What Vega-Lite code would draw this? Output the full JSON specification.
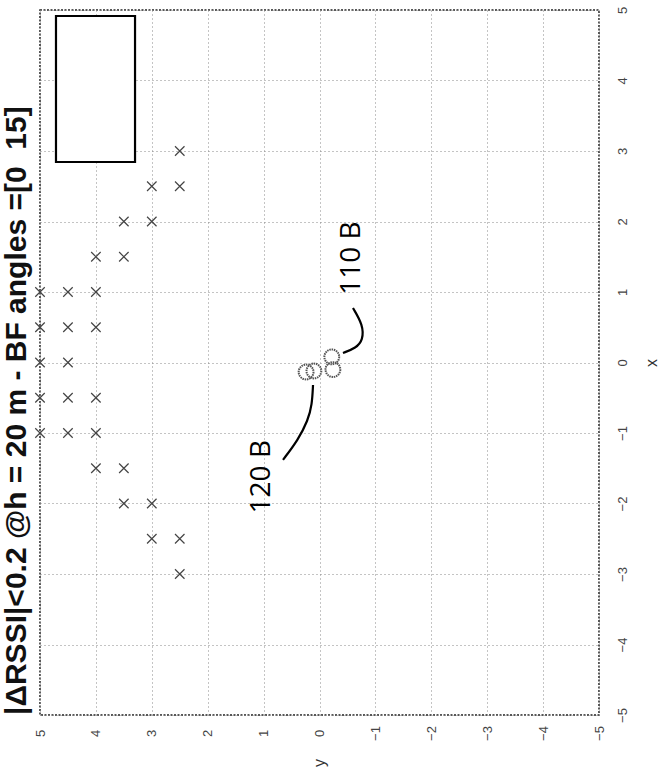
{
  "$schema": "https://vega.github.io/schema/vega-lite/v6.json",
  "autosize": {"type": "none"},
  "padding": {"left": 40, "top": 10, "right": 64, "bottom": 61},
  "width": 559,
  "height": 705,
  "background": "white",
  "title": {
    "text": "|ΔRSSI|<0.2 @h = 20 m - BF angles =[0\u00a0 15]",
    "orient": "left",
    "anchor": "start",
    "frame": "group",
    "font": "Liberation Sans",
    "fontSize": 30,
    "fontWeight": "bold",
    "color": "#111",
    "offset": 1
  },
  "datasets": {
    "crosses": [
      {"x": 3, "y": 2.5},
      {"x": 2.5, "y": 3}, {"x": 2.5, "y": 2.5},
      {"x": 2, "y": 3}, {"x": 2, "y": 3.5},
      {"x": 1.5, "y": 4}, {"x": 1.5, "y": 3.5},
      {"x": 1, "y": 5}, {"x": 1, "y": 4.5}, {"x": 1, "y": 4},
      {"x": 0.5, "y": 5}, {"x": 0.5, "y": 4.5}, {"x": 0.5, "y": 4},
      {"x": 0, "y": 5}, {"x": 0, "y": 4.5},
      {"x": -0.5, "y": 5}, {"x": -0.5, "y": 4.5}, {"x": -0.5, "y": 4},
      {"x": -1, "y": 5}, {"x": -1, "y": 4.5}, {"x": -1, "y": 4},
      {"x": -1.5, "y": 4}, {"x": -1.5, "y": 3.5},
      {"x": -2, "y": 3.5}, {"x": -2, "y": 3},
      {"x": -2.5, "y": 3}, {"x": -2.5, "y": 2.5},
      {"x": -3, "y": 2.5}
    ],
    "circles": [
      {"x": -0.135, "y": 0.24, "group": "120 B"},
      {"x": -0.12, "y": 0.1, "group": "120 B"},
      {"x": 0.08, "y": -0.22, "group": "110 B"},
      {"x": -0.1, "y": -0.24, "group": "110 B"}
    ],
    "leaders": [
      {"id": "120 B", "order": 1, "x": -0.32, "y": 0.116},
      {"id": "120 B", "order": 2, "x": -0.6, "y": 0.134},
      {"id": "120 B", "order": 3, "x": -0.82, "y": 0.206},
      {"id": "120 B", "order": 4, "x": -1.1, "y": 0.385},
      {"id": "120 B", "order": 5, "x": -1.38, "y": 0.653},
      {"id": "110 B", "order": 1, "x": 0.135, "y": -0.42},
      {"id": "110 B", "order": 2, "x": 0.206, "y": -0.653},
      {"id": "110 B", "order": 3, "x": 0.319, "y": -0.778},
      {"id": "110 B", "order": 4, "x": 0.532, "y": -0.778},
      {"id": "110 B", "order": 5, "x": 0.773, "y": -0.599}
    ],
    "labels": [
      {"text": "120 B", "x": -1.62, "y": 1.03},
      {"text": "110 B", "x": 1.48, "y": -0.58}
    ],
    "legendbox": [
      {"x": 4.915, "x_end": 2.844, "y": 4.714, "y_end": 3.3}
    ]
  },
  "encoding": {
    "x": {
      "field": "y",
      "type": "quantitative",
      "scale": {"domain": [-5, 5], "reverse": true, "nice": false, "zero": false},
      "axis": {
        "orient": "bottom",
        "title": "y",
        "values": [-5, -4, -3, -2, -1, 0, 1, 2, 3, 4, 5],
        "labelAngle": 270,
        "labelAlign": "center",
        "labelBaseline": "middle",
        "labelPadding": 18,
        "titleAngle": 270,
        "titleAlign": "center",
        "titleBaseline": "middle",
        "titlePadding": 22
      }
    },
    "y": {
      "field": "x",
      "type": "quantitative",
      "scale": {"domain": [-5, 5], "nice": false, "zero": false},
      "axis": {
        "orient": "right",
        "title": "x",
        "values": [-5, -4, -3, -2, -1, 0, 1, 2, 3, 4, 5],
        "labelAngle": 270,
        "labelAlign": "center",
        "labelBaseline": "middle",
        "labelPadding": 23,
        "titleAngle": 270,
        "titleAlign": "center",
        "titleBaseline": "middle",
        "titlePadding": 22
      }
    }
  },
  "layer": [
    {
      "data": {"name": "crosses"},
      "mark": {"type": "point", "shape": "M-1,-1L1,1M1,-1L-1,1", "filled": false, "size": 90, "strokeWidth": 1.2, "color": "#444", "opacity": 1}
    },
    {
      "data": {"name": "legendbox"},
      "mark": {"type": "rect", "fill": "white", "stroke": "#000", "strokeWidth": 2.2},
      "encoding": {
        "x2": {"field": "y_end"},
        "y2": {"field": "x_end"}
      }
    },
    {
      "data": {"name": "circles"},
      "mark": {"type": "point", "shape": "circle", "filled": false, "size": 220, "strokeWidth": 2, "color": "#555", "strokeDash": [1.5, 0.8], "opacity": 1}
    },
    {
      "data": {"name": "leaders"},
      "mark": {"type": "line", "interpolate": "basis", "color": "#000", "strokeWidth": 2.2},
      "encoding": {
        "detail": {"field": "id"},
        "order": {"field": "order", "type": "quantitative"}
      }
    },
    {
      "data": {"name": "labels"},
      "mark": {"type": "text", "angle": 270, "font": "Open Sans", "fontSize": 28, "color": "#000", "align": "center", "baseline": "middle"},
      "encoding": {
        "text": {"field": "text"}
      }
    }
  ],
  "config": {
    "view": {"stroke": "#222", "strokeWidth": 1.5, "strokeDash": [2, 1.5]},
    "axis": {
      "domain": false,
      "ticks": false,
      "tickSize": 0,
      "grid": true,
      "gridColor": "#888",
      "gridDash": [1, 3],
      "gridWidth": 1,
      "labelFont": "Liberation Sans",
      "labelFontSize": 13,
      "labelColor": "#444",
      "titleFont": "Liberation Sans",
      "titleFontSize": 16,
      "titleFontWeight": "normal",
      "titleColor": "#333"
    }
  }
}
